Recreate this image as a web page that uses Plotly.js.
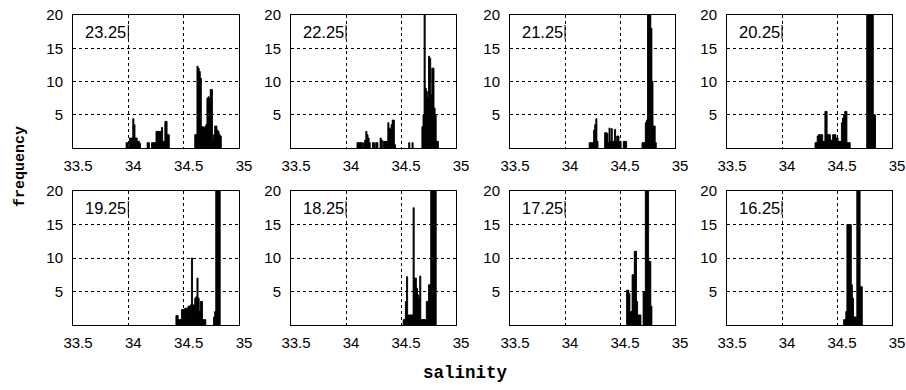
<!DOCTYPE html>
<html>
<head>
<meta charset="utf-8">
<script src="https://cdn.plot.ly/plotly-3.0.1.min.js"></script>
<style>
html,body{margin:0;padding:0;background:#fff;}
#chart{width:906px;height:390px;}
</style>
</head>
<body>
<div id="chart"></div>
<script>
// ---- data (bin centers of salinity, frequency counts) ----
const panelLabels = ['23.25','22.25','21.25','20.25','19.25','18.25','17.25','16.25'];
const xTickVals = [33.5, 34, 34.5, 35];
const xTickText = ['33.5','34','34.5','35'];
const yTickVals = [5, 10, 15, 20];
const yTickText = ['5','10','15','20'];
const binWidth = 0.01;

const sal_2325 = [33.985,33.995,34.015,34.025,34.035,34.045,34.055,34.065,34.075,34.085,34.095,34.105,34.175,34.185,34.215,34.225,34.235,34.245,34.255,34.265,34.275,34.285,34.295,34.305,34.315,34.325,34.335,34.345,34.355,34.365,34.605,34.615,34.625,34.635,34.645,34.655,34.665,34.675,34.685,34.695,34.705,34.715,34.725,34.735,34.745,34.755,34.765,34.775,34.785,34.795,34.805,34.815,34.825,34.835];
const freq_2325 = [0.8,0.8,1.5,1.5,1.5,4.4,3.5,1.5,1.5,1.0,1.0,0.7,0.8,0.8,0.8,0.8,0.8,0.8,2.5,2.5,2.5,2.5,2.5,3.1,1.0,1.0,4.0,4.0,2.0,2.0,2.0,2.0,12.3,12.0,11.5,10.5,3.2,3.2,3.0,3.2,3.5,7.5,7.7,7.5,8.8,8.8,1.0,2.0,3.3,3.3,2.7,2.5,2.0,1.8];

const sal_2225 = [34.105,34.115,34.125,34.135,34.145,34.165,34.175,34.185,34.195,34.205,34.215,34.245,34.255,34.275,34.285,34.315,34.325,34.345,34.355,34.365,34.375,34.385,34.395,34.405,34.415,34.425,34.435,34.445,34.575,34.605,34.695,34.705,34.715,34.725,34.735,34.745,34.755,34.765,34.775,34.785,34.795,34.805,34.815,34.825,34.835];
const freq_2225 = [0.8,0.8,0.8,0.8,0.8,0.8,1.2,2.5,2.0,1.5,0.8,0.8,0.8,0.8,0.8,1.5,1.2,1.0,1.0,1.0,1.0,3.8,3.0,2.8,3.5,4.2,4.2,0.5,0.8,0.8,3.2,5.0,22,9.0,8.5,7.5,13.8,13.5,8.0,12.0,12.0,6.0,5.0,1.0,1.0];

const sal_2125 = [34.225,34.235,34.245,34.255,34.265,34.275,34.285,34.295,34.365,34.375,34.385,34.395,34.405,34.415,34.425,34.435,34.445,34.455,34.465,34.475,34.485,34.495,34.505,34.535,34.545,34.555,34.705,34.715,34.725,34.735,34.745,34.755,34.765,34.775,34.785,34.795,34.805,34.815,34.825];
const freq_2125 = [0.8,0.8,0.8,0.8,2.7,3.5,4.4,1.0,2.3,2.3,2.2,0.8,3.0,1.0,2.9,1.0,1.0,2.8,1.0,1.8,1.8,1.0,1.0,1.0,1.0,1.0,0.8,0.8,0.8,3.8,4.2,22,22,22,18,10,3.3,3.3,0.8];

const sal_2025 = [34.305,34.315,34.325,34.335,34.345,34.355,34.365,34.375,34.385,34.395,34.405,34.415,34.425,34.435,34.445,34.455,34.465,34.475,34.485,34.495,34.505,34.515,34.525,34.535,34.545,34.555,34.565,34.575,34.585,34.595,34.605,34.615,34.775,34.785,34.795,34.805,34.815,34.825,34.835,34.845];
const freq_2025 = [0.8,0.8,1.8,2.0,2.0,2.0,2.0,1.0,1.0,5.5,5.5,2.0,2.0,2.0,1.2,1.2,2.0,2.0,2.0,1.5,1.5,1.0,1.0,1.0,3.8,4.5,5.0,5.5,5.5,0.8,0.8,0.8,22,22,22,22,22,22,5.0,5.0];

const sal_1925 = [34.435,34.445,34.455,34.465,34.475,34.485,34.495,34.505,34.515,34.525,34.535,34.545,34.555,34.565,34.575,34.585,34.595,34.605,34.615,34.625,34.635,34.645,34.655,34.665,34.675,34.685,34.695,34.775,34.785,34.795,34.805,34.815,34.825];
const freq_1925 = [1.4,1.4,0.8,0.8,0.8,2.3,2.3,2.3,2.5,2.5,2.5,2.8,2.8,3.0,10,3.0,3.0,4.0,4.2,7.0,4.0,2.0,3.5,3.5,0.8,0.8,0.8,1.2,2.0,22,22,22,22];

const sal_1825 = [34.525,34.535,34.545,34.555,34.565,34.575,34.585,34.595,34.605,34.615,34.625,34.635,34.645,34.655,34.665,34.675,34.685,34.695,34.705,34.715,34.725,34.735,34.745,34.755,34.765,34.775,34.785,34.795,34.805,34.815];
const freq_1825 = [0.8,0.8,3.5,7.2,1.5,1.5,1.5,1.5,1.5,17.5,7.0,7.0,5.5,4.5,4.0,7.3,0.8,0.8,0.8,0.8,0.8,3.5,3.5,6.0,6.0,22,22,22,22,22];

const sal_1725 = [34.565,34.575,34.585,34.595,34.605,34.615,34.625,34.635,34.645,34.655,34.665,34.675,34.685,34.715,34.725,34.735,34.745,34.755,34.765,34.775,34.785];
const freq_1725 = [5.2,5.2,4.7,2.0,2.0,7.5,7.5,11,11,3.5,1.5,1.5,1.5,5.0,5.0,22,22,22,9.5,9.5,2.8];

const sal_1625 = [34.565,34.575,34.585,34.595,34.605,34.615,34.625,34.635,34.645,34.655,34.665,34.675,34.685,34.695,34.705,34.715,34.725];
const freq_1625 = [0.8,0.8,2.0,15,15,15,15,6.0,4.0,1.2,1.2,1.2,22,22,22,5.7,5.7];

const salSeries = [sal_2325, sal_2225, sal_2125, sal_2025, sal_1925, sal_1825, sal_1725, sal_1625];
const freqSeries = [freq_2325, freq_2225, freq_2125, freq_2025, freq_1925, freq_1825, freq_1725, freq_1625];

// ---- layout geometry (pixels) ----
const W = 906, H = 390;
const colPx = [[73,239],[291,456],[510,675],[727,892]];
const rowPx = [[15,148],[191,325]];

const traces = [];
const layout = {
  width: W, height: H,
  margin: {l:0, r:0, t:0, b:0},
  paper_bgcolor: '#fff', plot_bgcolor: '#fff',
  showlegend: false,
  bargap: 0,
  annotations: [],
  shapes: [],
  font: {family: 'Liberation Sans, Arial, sans-serif', color: '#000'}
};

for (let i = 0; i < 8; i++) {
  const n = i + 1;
  const c = colPx[i % 4], r = rowPx[Math.floor(i / 4)];
  const xa = 'xaxis' + n, ya = 'yaxis' + n;
  const xr = 'x' + n, yr = 'y' + n;
  traces.push({
    type: 'bar', x: salSeries[i], y: freqSeries[i],
    xaxis: xr, yaxis: yr, width: binWidth,
    marker: {color: '#000', line: {color: '#000', width: 0.9}},
    hoverinfo: 'x+y'
  });
  const common = {
    showgrid: true, gridcolor: '#000', gridwidth: 1, griddash: '3px,3px',
    showline: true, mirror: true, linecolor: '#000', linewidth: 1,
    zeroline: false, ticks: '', fixedrange: true,
    tickfont: {family: 'Liberation Sans, Arial, sans-serif', size: 15, color: '#000'}
  };
  layout[xa] = Object.assign({}, common, {
    domain: [c[0] / W, c[1] / W], anchor: yr,
    range: [33.5, 35], tickmode: 'array', tickvals: xTickVals, ticktext: xTickText,
    ticklabelstandoff: 4, ticklabelshift: 5
  });
  layout[ya] = Object.assign({}, common, {
    domain: [1 - r[1] / H, 1 - r[0] / H], anchor: xr,
    range: [0, 20], tickmode: 'array', tickvals: yTickVals, ticktext: yTickText,
    ticklabelstandoff: 6
  });
  layout.annotations.push({
    xref: xr, yref: yr, x: 34, y: 17.45, xanchor: 'right', yanchor: 'middle',
    text: panelLabels[i], showarrow: false, xshift: 0,
    font: {family: 'Liberation Sans, Arial, sans-serif', size: 16.5, color: '#000'}
  });
  layout.shapes.push({
    type: 'line', xref: xr, yref: yr, x0: 34, x1: 34, y0: 16.4, y1: 18.5,
    line: {color: '#000', width: 1}
  });
}

layout.annotations.push({
  xref: 'paper', yref: 'paper', x: 466 / W, y: 1 - 373 / H,
  xanchor: 'center', yanchor: 'middle', showarrow: false,
  text: 'salinity',
  font: {family: 'Liberation Mono, DejaVu Sans Mono, monospace', size: 17.5, color: '#000', weight: 'bold'}
});
layout.annotations.push({
  xref: 'paper', yref: 'paper', x: 20 / W, y: 1 - 167 / H,
  xanchor: 'center', yanchor: 'middle', showarrow: false, textangle: -90,
  text: 'frequency',
  font: {family: 'Liberation Mono, DejaVu Sans Mono, monospace', size: 15, color: '#000', weight: 'bold'}
});

Plotly.newPlot('chart', traces, layout, {displayModeBar: false, staticPlot: true});
</script>
</body>
</html>
